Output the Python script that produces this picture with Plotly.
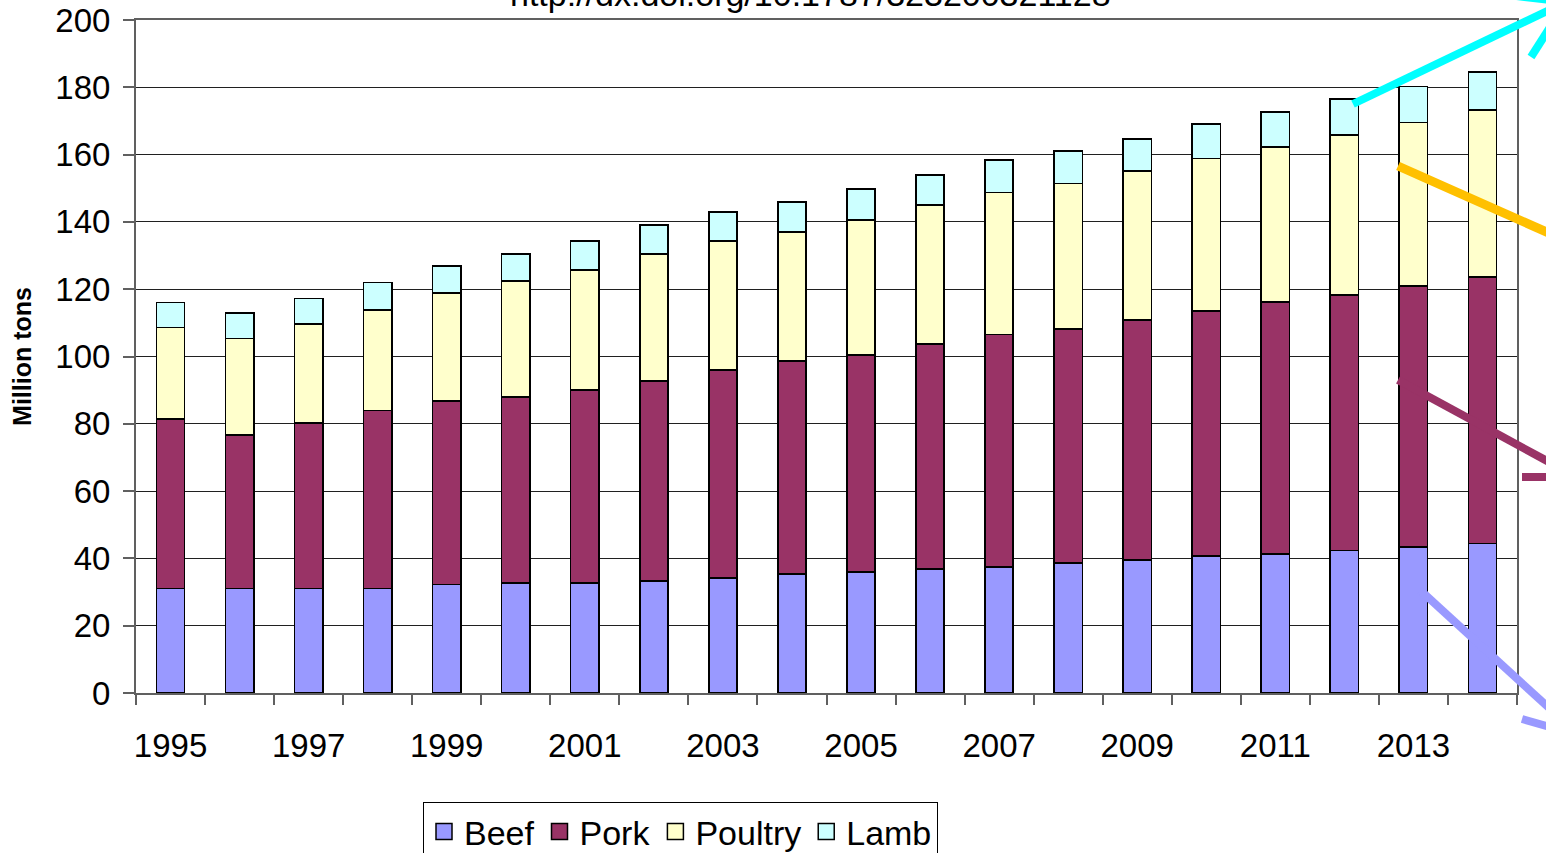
import plotly.graph_objects as go

# World meat consumption by type, million tons
years = list(range(1995, 2015))
beef = [31.1, 31.1, 31.1, 31.1, 32.2, 32.7, 32.7, 33.3, 34.2, 35.4,
        36.0, 36.8, 37.5, 38.6, 39.5, 40.7, 41.3, 42.3, 43.4, 44.4]
pork = [50.3, 45.5, 49.1, 52.9, 54.6, 55.2, 57.3, 59.4, 61.8, 63.3,
        64.5, 67.0, 69.0, 69.6, 71.3, 72.8, 74.9, 76.0, 77.5, 79.2]
poultry = [27.2, 28.8, 29.5, 29.9, 32.0, 34.5, 35.7, 37.8, 38.3, 38.3,
           40.1, 41.2, 42.2, 43.2, 44.4, 45.4, 46.0, 47.5, 48.7, 49.7]
lamb = [7.4, 7.5, 7.5, 8.1, 8.1, 8.1, 8.6, 8.6, 8.6, 8.9,
        9.2, 9.0, 9.7, 9.7, 9.5, 10.2, 10.5, 10.7, 10.6, 11.2]
year_labels = [str(y) for y in range(1995, 2015, 2)]

series = [
    ("Beef", beef, "#9999FF"),
    ("Pork", pork, "#993366"),
    ("Poultry", poultry, "#FFFFCC"),
    ("Lamb", lamb, "#CCFFFF"),
]

W, H = 1546, 853
ML, MR, MT, MB = 136, 29, 20, 160
PW, PH = W - ML - MR, H - MT - MB

fig = go.Figure()
for name, vals, color in series:
    fig.add_trace(go.Bar(
        x=years, y=vals, name=name, width=0.41, legendgroup=name, showlegend=False,
        marker=dict(color=color, line=dict(color="black", width=1.6)),
    ))
# legend keys: larger outlined squares
for name, vals, color in series:
    fig.add_trace(go.Scatter(
        x=[None], y=[None], mode="markers", name=name, legendgroup=name,
        marker=dict(symbol="square", size=18, color=color,
                    line=dict(color="black", width=1.5)),
    ))


def px_x(p):
    return (p - ML) / PW


def px_y(p):
    return (H - MB - p) / PH


# trend arrows drawn at the right edge
strokes = [
    ("#00FFFF", 8, (1353, 104), (1566, 2)),
    ("#00FFFF", 8, (1500, -6), (1566, 2)),
    ("#00FFFF", 8, (1531, 57), (1566, 2)),
    ("#FFC000", 9, (1398, 166), (1560, 238)),
    ("#993366", 8, (1398, 380), (1560, 468)),
    ("#993366", 8, (1522, 477), (1560, 477)),
    ("#9999FF", 8, (1420, 590), (1560, 718)),
    ("#9999FF", 8, (1522, 719), (1560, 730)),
]
shapes = []
for color, w, (x0, y0), (x1, y1) in strokes:
    shapes.append(dict(type="line", xref="paper", yref="paper",
                       x0=px_x(x0), y0=px_y(y0), x1=px_x(x1), y1=px_y(y1),
                       line=dict(color=color, width=w), layer="above"))

font_family = "Liberation Sans, Arial, sans-serif"

fig.update_layout(
    width=W, height=H,
    margin=dict(l=ML, r=MR, t=MT, b=MB, pad=0, autoexpand=False),
    barmode="stack",
    plot_bgcolor="white",
    paper_bgcolor="white",
    font=dict(family=font_family, color="black"),
    showlegend=True,
    legend=dict(
        orientation="h", x=px_x(423), xanchor="left", y=px_y(802), yanchor="top",
        font=dict(size=34, family=font_family), bordercolor="black", borderwidth=1,
        traceorder="normal", itemclick=False, tracegroupgap=0,
        itemwidth=30,
    ),
    xaxis=dict(
        range=[1994.5, 2014.5], tickmode="array",
        tickvals=[int(t) for t in year_labels], ticktext=year_labels,
        ticks="", tickfont=dict(size=33), ticklabelstandoff=22,
        showgrid=False, zeroline=False,
        showline=True, linecolor="#606060", linewidth=2, mirror=True,
        minor=dict(tickvals=[y - 0.5 for y in years] + [years[-1] + 0.5],
                   ticks="outside", ticklen=10, tickcolor="#606060", tickwidth=1.5,
                   showgrid=False),
    ),
    yaxis=dict(
        range=[0, 200], dtick=20, tick0=0,
        ticks="outside", ticklen=11, tickcolor="#606060", tickwidth=1.5,
        tickfont=dict(size=33), ticklabelstandoff=6,
        showgrid=True, gridcolor="#202020", gridwidth=1,
        zeroline=False, showline=True, linecolor="#606060", linewidth=2, mirror=True,
        title=dict(text="<b>Million tons</b>", font=dict(size=25), standoff=17),
    ),
    shapes=shapes,
    annotations=[dict(
        text="http://dx.doi.org/10.1787/323200321128", xref="paper", yref="paper",
        x=px_x(810), y=px_y(15), xanchor="center", yanchor="bottom",
        showarrow=False, font=dict(size=34, family=font_family),
    )],
)

fig.write_html("out.html")
